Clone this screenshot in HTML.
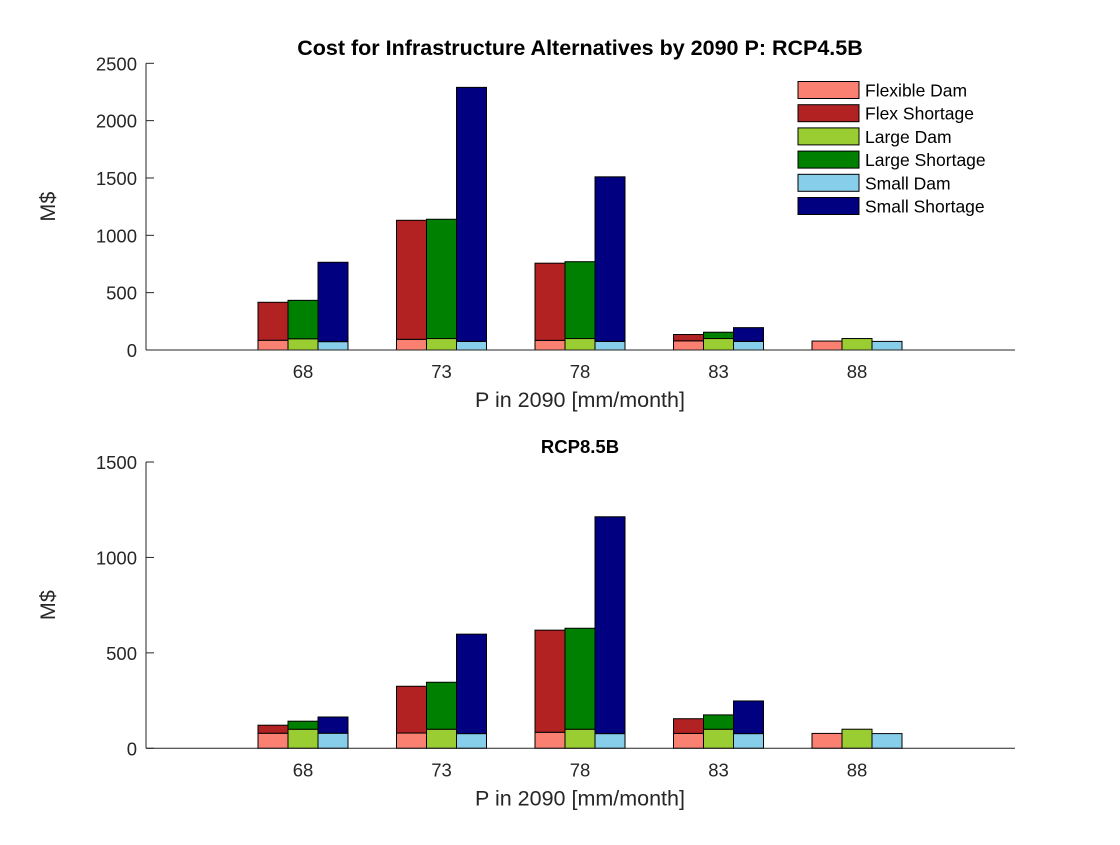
<!DOCTYPE html>
<html><head><meta charset="utf-8"><style>
body{margin:0;background:#fff;}
svg text{font-family:"Liberation Sans",Arial,sans-serif;fill:#262626;}
</style></head><body>
<svg id="chart" width="1120" height="840" xmlns="http://www.w3.org/2000/svg"></svg>
<script>
const categories = ["68","73","78","83","88"];
const seriesNames = ["Flexible Dam","Flex Shortage","Large Dam","Large Shortage","Small Dam","Small Shortage"];
const colors = ["#fa8072","#b22222","#9acd32","#008000","#87ceeb","#000080"];
// top panel (RCP4.5B)
const topFlexDam = [85, 93, 84, 80, 78];
const topFlexShort = [331, 1038, 673, 55, 0];
const topLargeDam = [98, 100, 100, 100, 100];
const topLargeShort = [335, 1040, 670, 55, 0];
const topSmallDam = [73, 75, 75, 75, 75];
const topSmallShort = [692, 2215, 1435, 120, 0];
// bottom panel (RCP8.5B)
const botFlexDam = [79, 80, 84, 78, 78];
const botFlexShort = [42, 245, 535, 77, 0];
const botLargeDam = [100, 100, 100, 100, 100];
const botLargeShort = [42, 246, 529, 75, 0];
const botSmallDam = [79, 77, 77, 77, 77];
const botSmallShort = [85, 521, 1136, 171, 0];
const topTicks = [0,500,1000,1500,2000,2500];
const botTicks = [0,500,1000,1500];

const svg = document.getElementById('chart');
const NS = "http://www.w3.org/2000/svg";
function mk(tag, attrs, parent){const e=document.createElementNS(NS,tag);for(const k in attrs)e.setAttribute(k,attrs[k]);(parent||svg).appendChild(e);return e;}
const xL=146, xR=1015;
function xScale(i){return 303 + i*138.5;}
const barW=30;

function panel(name, y0, y1, ymax, ticks, data, title, titleY, titleSize){
  const g = mk('g',{});
  
  
  const yS = v => y0 - (y0-y1)*v/ymax;
  ticks.forEach(t=>{
    mk('line',{x1:xL,y1:yS(t),x2:xL+8,y2:yS(t),stroke:'#262626'},g);
    const tx=mk('text',{x:xL-9,y:yS(t)+7,'text-anchor':'end','font-size':18.5},g);
    tx.textContent=t;
    
    
  });
  categories.forEach((c,i)=>{
    mk('line',{x1:xScale(i),y1:y0,x2:xScale(i),y2:y0-8,stroke:'#262626'},g);
    const tx=mk('text',{x:xScale(i),y:y0+28,'text-anchor':'middle','font-size':18.5},g);
    tx.textContent=c;
    
    
  });
  for(let i=0;i<categories.length;i++){
    for(let s=0;s<3;s++){
      const dam=data[s*2][i], sh=data[s*2+1][i];
      const x = xScale(i) - 1.5*barW + s*barW;
      const r1 = mk('rect',{x:x,y:yS(dam),width:barW,height:yS(0)-yS(dam),fill:colors[s*2],stroke:'#000','stroke-width':1},g);
      
      
      if(sh>0){
        const r2 = mk('rect',{x:x,y:yS(dam+sh),width:barW,height:yS(dam)-yS(dam+sh),fill:colors[s*2+1],stroke:'#000','stroke-width':1},g);
        
        
      }
    }
  }
  mk('line',{x1:xL,y1:y0,x2:xR,y2:y0,stroke:'#262626','stroke-width':1},g);
  mk('line',{x1:xL,y1:y0,x2:xL,y2:y1,stroke:'#262626','stroke-width':1},g);
  const xl=mk('text',{x:580,y:y0+57,'text-anchor':'middle','font-size':21.5},g);
  xl.textContent='P in 2090 [mm/month]';
  
  
  const ym=(y0+y1)/2;
  const yl=mk('text',{x:55,y:ym,'text-anchor':'middle','font-size':21.5,transform:'rotate(-90 55 '+ym+')'},g);
  yl.textContent='M$';
  
  
  const tt=mk('text',{x:580,y:titleY,'text-anchor':'middle','font-size':titleSize,'font-weight':'bold'},g);
  tt.style.fill='#000';
  tt.textContent=title;
  
  
}
panel('top-panel',350,63.3,2500,topTicks,[topFlexDam,topFlexShort,topLargeDam,topLargeShort,topSmallDam,topSmallShort],'Cost for Infrastructure Alternatives by 2090 P: RCP4.5B',55,21.5);
panel('bottom-panel',748.3,462,1500,botTicks,[botFlexDam,botFlexShort,botLargeDam,botLargeShort,botSmallDam,botSmallShort],'RCP8.5B',453,18.5);

const lg = mk('g',{});


seriesNames.forEach((n,i)=>{
  const y=81.5+i*23.2;
  const r=mk('rect',{x:798,y:y,width:61,height:17,fill:colors[i],stroke:'#000','stroke-width':1},lg);
  
  
  const t=mk('text',{x:865,y:y+15,'font-size':17.5},lg);
  t.style.fill='#000';
  t.textContent=n;
  
  
});
</script>
</body></html>
